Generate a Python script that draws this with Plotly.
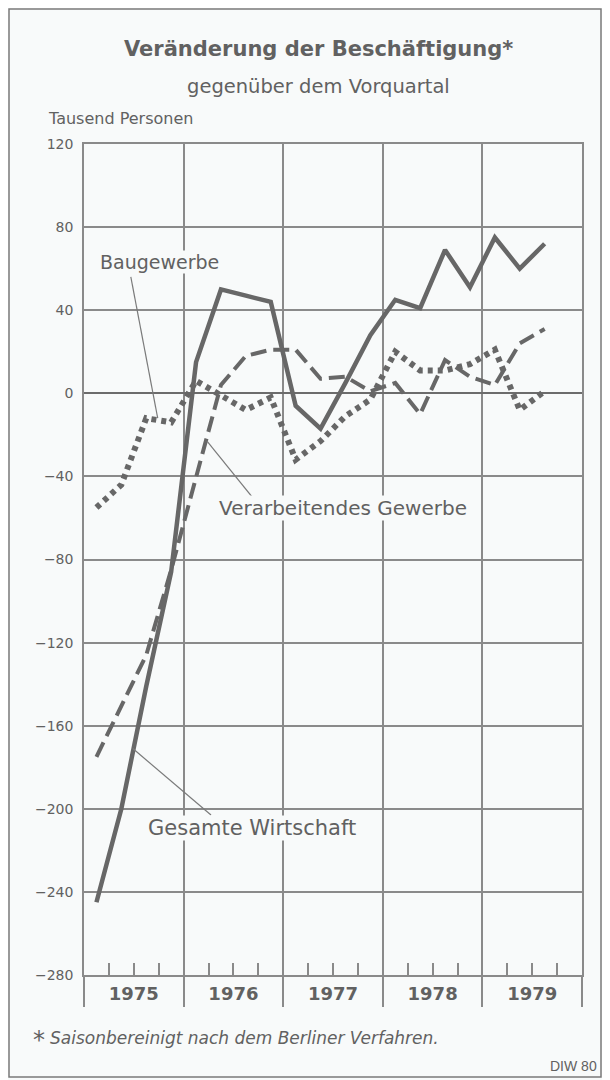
import plotly.graph_objects as go

# ---------------- data ----------------
quarters = ["1975 Q1", "1975 Q2", "1975 Q3", "1975 Q4",
            "1976 Q1", "1976 Q2", "1976 Q3", "1976 Q4",
            "1977 Q1", "1977 Q2", "1977 Q3", "1977 Q4",
            "1978 Q1", "1978 Q2", "1978 Q3", "1978 Q4",
            "1979 Q1", "1979 Q2", "1979 Q3"]
gesamte_wirtschaft = [-245, -200, -141, -86,
                      15, 50, 47, 44,
                      -6, -17, 5, 28,
                      45, 41, 69, 51,
                      75, 60, 72]
verarbeitendes_gewerbe = [-175, -150, -126, -85,
                          -40, 4, 18, 21,
                          21, 7, 8, 1,
                          5, -10, 16, 8,
                          4, 24, 31]
baugewerbe = [-55, -44, -12, -14,
              6, -1, -8, -2,
              -32, -23, -11, -3,
              20, 11, 11, 14,
              21, -8, 1]
years = [1975, 1976, 1977, 1978, 1979]
y_ticks = [120, 80, 40, 0, -40, -80, -120, -160, -200, -240, -280]

# ---------------- geometry (page px; page body has an 8px margin) ----------------
OFF = 8
W, H = 610 - OFF, 1080 - OFF
PL, PR, PT, PB = 84, 582, 144, 975          # plot box in page pixels
L, T = PL - OFF, PT - OFF
R, B = W - (PR - OFF), H - (PB - OFF)
PW, PH = W - L - R, H - T - B


def px(x):
    return (x - OFF - L) / PW


def py(y):
    return (H - B - (y - OFF)) / PH


def qpos(label):
    yr, q = label.split(" Q")
    return int(yr) + (int(q) - 0.5) / 4


xq = [qpos(q) for q in quarters]

INK = "#616161"
LINE = "#676767"
GRID = "#8a8a8a"
BG = "#f8fafa"
FONT = "DejaVu Sans"

fig = go.Figure()
fig.add_trace(go.Scatter(x=xq, y=baugewerbe, mode="lines", name="Baugewerbe",
                         line=dict(color=LINE, width=6, dash="5px,5px"),
                         xaxis="x2"))
fig.add_trace(go.Scatter(x=xq, y=verarbeitendes_gewerbe, mode="lines",
                         name="Verarbeitendes Gewerbe",
                         line=dict(color=LINE, width=4, dash="16px,7px")))
fig.add_trace(go.Scatter(x=xq, y=gesamte_wirtschaft, mode="lines",
                         name="Gesamte Wirtschaft",
                         line=dict(color=LINE, width=4.5)))

ytext = [str(v) if v >= 0 else "\u2212" + str(-v) for v in y_ticks]
year_bounds = years + [years[-1] + 1]
quarter_bounds = [y + k / 4 for y in years for k in (1, 2, 3)]

fig.update_layout(
    width=W, height=H, autosize=False,
    margin=dict(l=L, r=R, t=T, b=B, pad=0),
    paper_bgcolor=BG, plot_bgcolor=BG,
    showlegend=False,
    font=dict(family=FONT, color=INK),
    xaxis=dict(range=[years[0], years[-1] + 1], showgrid=False, zeroline=False,
               tickvals=[y + 0.5 for y in years], ticktext=[str(y) for y in years],
               ticks="outside", ticklen=2, tickcolor="rgba(0,0,0,0)",
               tickfont=dict(family=FONT, size=18, color=INK, weight="bold"),
               showline=True, linecolor=GRID, linewidth=1.5, mirror=True,
               minor=dict(tickvals=year_bounds, ticks="outside", ticklen=30,
                          tickwidth=1.5, tickcolor=GRID, showgrid=True,
                          gridcolor=GRID, gridwidth=1.5),
               fixedrange=True),
    xaxis2=dict(range=[years[0], years[-1] + 1], overlaying="x", anchor="y",
                side="bottom", showgrid=False, zeroline=False,
                tickvals=quarter_bounds, ticks="inside", ticklen=12,
                tickwidth=1.5, tickcolor=GRID, showticklabels=False,
                showline=False),
    yaxis=dict(range=[-280, 120], tickvals=y_ticks, ticktext=ytext,
               ticks="outside", ticklen=6, tickcolor="rgba(0,0,0,0)",
               tickfont=dict(family=FONT, size=14, color=INK),
               showgrid=True, gridcolor=GRID, gridwidth=1.5,
               zeroline=True, zerolinecolor="#6c6c6c", zerolinewidth=2.2,
               showline=True, linecolor=GRID, linewidth=1.5, mirror=True),
)

# outer frame
fig.add_shape(type="rect", xref="paper", yref="paper",
              x0=px(9), x1=px(601), y0=py(1077), y1=py(9),
              line=dict(color="#7a7a7a", width=1.5), layer="below")

# leader lines (label pointers)
leaders = [((1975.47, 56), (1975.74, -12)),
           ((1976.235, -23), (1976.74, -53)),
           ((1975.49, -171), (1976.275, -203))]
for (x0, y0), (x1, y1) in leaders:
    fig.add_shape(type="line", xref="x", yref="y", x0=x0, y0=y0, x1=x1, y1=y1,
                  line=dict(color="#7a7a7a", width=1.2))

# series labels
labels = [("Baugewerbe", 1975.76, 63, 19), ("Verarbeitendes Gewerbe", 1977.6, -55, 20),
          ("Gesamte Wirtschaft", 1976.69, -209, 21)]
for txt, x, y, s in labels:
    fig.add_annotation(x=x, y=y, xref="x", yref="y", text=txt, showarrow=False,
                       font=dict(family=FONT, size=s, color=INK),
                       bgcolor=BG, borderpad=0)


def text(t, x, y, size, xanchor="center", bold=False, italic=False, family=FONT):
    fig.add_annotation(x=px(x), y=py(y), xref="paper", yref="paper", text=t,
                       showarrow=False, xanchor=xanchor, yanchor="middle",
                       font=dict(family=family, size=size, color=INK,
                                 weight="bold" if bold else "normal",
                                 style="italic" if italic else "normal"))


text("Veränderung der Beschäftigung*", 318, 49, 21, bold=True)
text("gegenüber dem Vorquartal", 318, 86, 19.5)
text("Tausend Personen", 46, 118, 16, xanchor="left")
text("*", 31, 1040, 24, xanchor="left")
text("Saisonbereinigt nach dem Berliner Verfahren.", 48, 1038, 17, xanchor="left",
     italic=True)
text("DIW 80", 599, 1066, 14, xanchor="right", family="Liberation Sans")

fig.write_html("out.html")
